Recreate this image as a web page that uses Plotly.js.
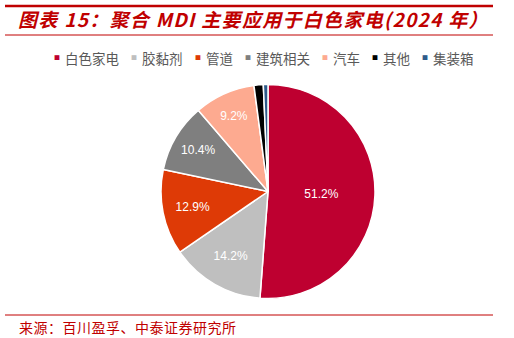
<!DOCTYPE html>
<html>
<head>
<meta charset="utf-8">
<script src="https://cdn.plot.ly/plotly-3.0.1.min.js"></script>
<style>
  html, body { margin: 0; padding: 0; background: #fff; }
  #chart { width: 514px; height: 338px; }
</style>
</head>
<body>
<div id="chart"></div>
<script>
// 2024 聚合 MDI 下游应用结构（%）
const categories = ['白色家电', '胶黏剂', '管道', '建筑相关', '汽车', '其他', '集装箱'];
const shares = [51.2, 14.2, 12.9, 10.4, 9.2, 1.4, 0.7];
const sliceColors = ['#BE0030', '#BFBFBF', '#DE3A06', '#7F7F7F', '#FDAA90', '#000000', '#2F5B8A'];
// slices too thin to carry a value label
const showLabel = [true, true, true, true, true, false, false];

const W = 514, H = 338;
const px = x => x / W;
const py = y => 1 - y / H;

const RED = '#C00000';
const CJK = '"Noto Sans CJK SC", "Liberation Sans", Arial, sans-serif';

const pie = {
  type: 'pie',
  labels: categories,
  values: shares,
  sort: false,
  direction: 'clockwise',
  rotation: 0,
  marker: { colors: sliceColors, line: { color: '#ffffff', width: 1.5 } },
  texttemplate: showLabel.map(s => s ? '%{value:.1f}%' : ''),
  textposition: 'inside',
  insidetextorientation: 'horizontal',
  insidetextfont: { family: '"Liberation Sans", Arial, sans-serif', size: 12, color: '#ffffff' },
  hoverinfo: 'label+percent',
  showlegend: false,
  domain: { x: [px(161), px(375)], y: [py(300), py(83)] }
};

// legend row drawn as text: small coloured square + category name
const legendFont = 13.5;
const annotations = [];
let lx = 57;
categories.forEach((c, i) => {
  annotations.push({
    xref: 'paper', yref: 'paper', x: px(lx), y: py(58),
    xanchor: 'center', yanchor: 'middle', showarrow: false,
    text: '■', font: { family: CJK, size: 6, color: sliceColors[i] }
  });
  annotations.push({
    xref: 'paper', yref: 'paper', x: px(lx + 6), y: py(58),
    xanchor: 'left', yanchor: 'middle', showarrow: false,
    text: c, font: { family: CJK, size: legendFont, color: '#595959' }
  });
  lx += 7 + c.length * legendFont + 16;
});

// source note
annotations.push({
  xref: 'paper', yref: 'paper', x: px(17), y: py(327),
  xanchor: 'left', yanchor: 'middle', showarrow: false,
  text: '<span style="letter-spacing:0.5px">来源：百川盈孚、中泰证券研究所</span>',
  font: { family: CJK, size: 14, color: RED }
});

const shapes = [
  { type: 'line', xref: 'paper', yref: 'paper', x0: px(5), x1: px(493), y0: py(6), y1: py(6), line: { color: RED, width: 2.5 } },
  { type: 'line', xref: 'paper', yref: 'paper', x0: px(5), x1: px(493), y0: py(35), y1: py(35), line: { color: RED, width: 1 } },
  { type: 'line', xref: 'paper', yref: 'paper', x0: px(5), x1: px(493), y0: py(315), y1: py(315), line: { color: RED, width: 1 } }
];

const layout = {
  width: W, height: H,
  margin: { l: 0, r: 0, t: 0, b: 0 },
  paper_bgcolor: '#ffffff',
  plot_bgcolor: '#ffffff',
  title: {
    text: '<span style="letter-spacing:1.3px">图表 15：聚合 MDI 主要应用于白色家电(2024 年）</span>',
    x: px(18), xanchor: 'left', xref: 'paper',
    y: py(20), yanchor: 'middle', yref: 'paper',
    font: { family: CJK, size: 19, color: RED, weight: 'bold', style: 'italic' }
  },
  annotations: annotations,
  shapes: shapes
};

Plotly.newPlot('chart', [pie], layout, { displayModeBar: false, staticPlot: true });
</script>
</body>
</html>
